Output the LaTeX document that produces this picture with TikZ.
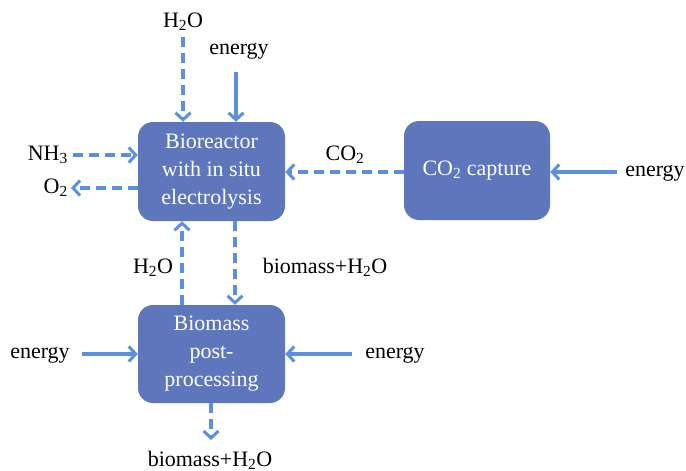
\documentclass[tikz,border=0pt]{standalone}
\usepackage{fontspec}
\setmainfont{Liberation Serif}
\usetikzlibrary{arrows.meta}
\definecolor{boxfill}{RGB}{94,118,188}
\definecolor{arrowblue}{RGB}{90,143,226}
\begin{document}
\begin{tikzpicture}[x=1pt,y=-1pt,
  box/.style={draw=none,fill=boxfill,rounded corners=15pt,text=white,align=center,inner sep=0pt,font=\fontsize{22}{28}\selectfont},
  lbl/.style={inner sep=0pt,font=\fontsize{22}{28}\selectfont},
  flow/.style={draw=arrowblue,line width=3.2pt,-{Straight Barb[length=7pt,width=15pt,line width=3pt]}},
  dflow/.style={flow,dash pattern=on 10pt off 6pt}]
\useasboundingbox (0,0) rectangle (686,471);
% boxes
\node[box,minimum width=147pt,minimum height=99pt] (bio) at (211.5,171.5) {Bioreactor\\with in situ\\electrolysis};
\node[box,minimum width=146pt,minimum height=99pt] (cap) at (477,170.5) {CO\textsubscript{2} capture};
\node[box,minimum width=147pt,minimum height=98pt] (post) at (211.5,354) {Biomass\\post-\\processing};
% labels
\node[lbl] (h2otop) at (183,22) {H\textsubscript{2}O};
\node[lbl] (entop) at (239,51) {energy};
\node[lbl,anchor=east] (nh3) at (68,155) {NH\textsubscript{3}};
\node[lbl,anchor=east] (o2) at (68,188) {O\textsubscript{2}};
\node[lbl] (co2) at (345,155) {CO\textsubscript{2}};
\node[lbl] (enright) at (655,173) {energy};
\node[lbl] (h2omid) at (153,268) {H\textsubscript{2}O};
\node[lbl] (bmmid) at (325,267) {biomass+H\textsubscript{2}O};
\node[lbl] (enleft) at (40,355) {energy};
\node[lbl] (enbr) at (395,355) {energy};
\node[lbl] (bmbot) at (210,460) {biomass+H\textsubscript{2}O};
% coordinates
\coordinate (a1) at (183,37);
\coordinate (a2) at (236,72);
\coordinate (a3) at (73,155);
\coordinate (a4) at (71,188);
\coordinate (a5) at (617,172);
\coordinate (a6) at (82,354);
\coordinate (a7) at (352,354);
\coordinate (a8) at (211,440);
% connectors
\draw[dflow] (a1) -- (a1 |- bio.north);
\draw[flow] (a2) -- (a2 |- bio.north);
\draw[dflow] (a3) -- (a3 -| bio.west);
\draw[dflow] (a4 -| bio.west) -- (a4);
\draw[dflow] (cap.west |- a5) -- (bio.east |- a5);
\draw[flow] (a5) -- (cap.east |- a5);
\draw[dflow] (post.north -| 182,0) -- (bio.south -| 182,0);
\draw[dflow] (bio.south -| 235,0) -- (post.north -| 235,0);
\draw[flow] (a6) -- (a6 -| post.west);
\draw[flow] (a7) -- (a7 -| post.east);
\draw[dflow] (post.south -| a8) -- (a8);
\end{tikzpicture}
\end{document}
